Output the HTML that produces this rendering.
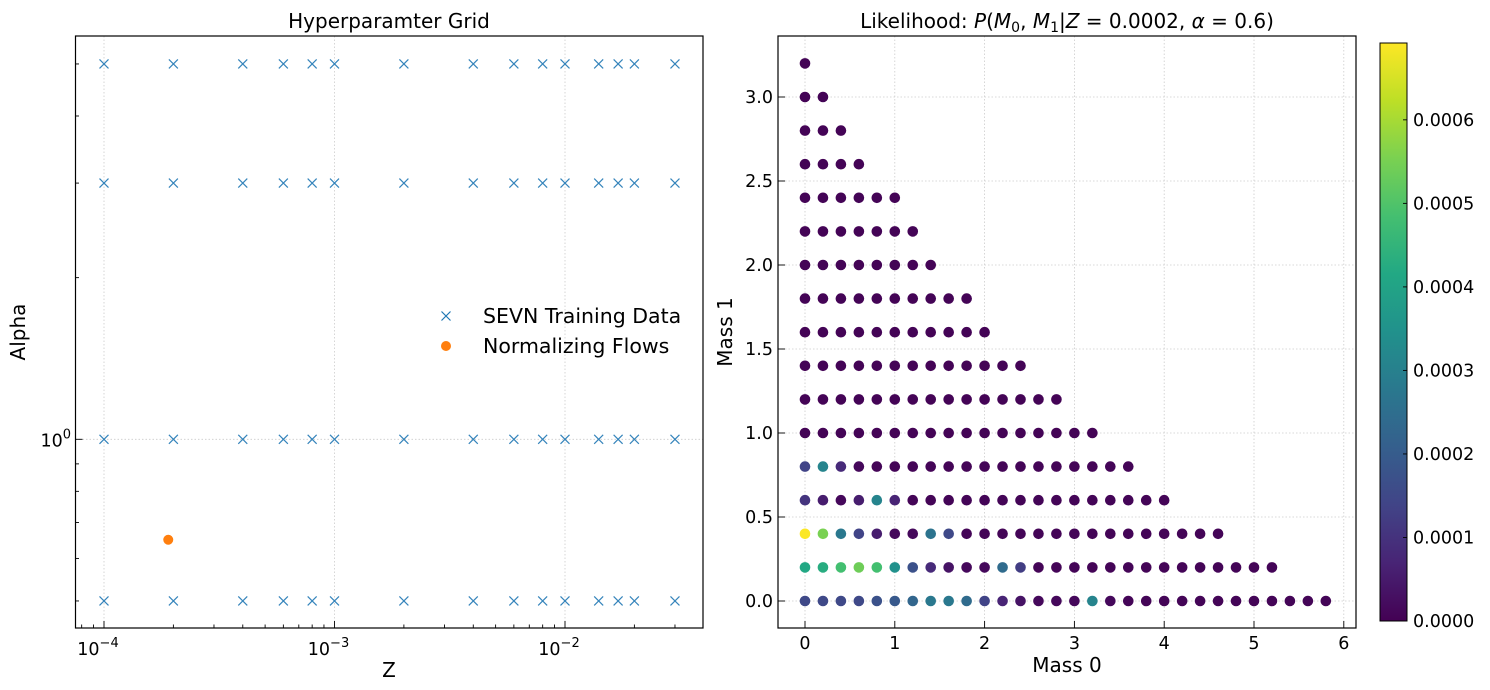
<!DOCTYPE html>
<html><head><meta charset="utf-8">
<style>
body{margin:0;background:#fff;}
svg{display:block;font-family:"DejaVu Sans","Liberation Sans",sans-serif;}
</style></head>
<body>
<svg id="fig" width="1490" height="690" viewBox="0 0 1490 690" xmlns="http://www.w3.org/2000/svg">
<defs>
<linearGradient id="vir" x1="0" y1="1" x2="0" y2="0">
<stop offset="0" stop-color="#440154"/><stop offset="0.1" stop-color="#482475"/><stop offset="0.2" stop-color="#414487"/><stop offset="0.3" stop-color="#355f8d"/><stop offset="0.4" stop-color="#2a788e"/><stop offset="0.5" stop-color="#21918c"/><stop offset="0.6" stop-color="#22a884"/><stop offset="0.7" stop-color="#44bf70"/><stop offset="0.8" stop-color="#7ad151"/><stop offset="0.9" stop-color="#bddf26"/><stop offset="1" stop-color="#fde725"/>
</linearGradient>
</defs>
<g id="left"></g>
<g id="right"></g>
<g id="cbar"></g>
</svg>
<script>
// ---------- Left chart data ----------
const zValues = [1e-4,2e-4,4e-4,6e-4,8e-4,1e-3,2e-3,4e-3,6e-3,8e-3,1e-2,1.4e-2,1.7e-2,2e-2,3e-2];
const alphaValues = [0.5,1,3,5];
const flowZ = [0.00019];
const flowAlpha = [0.65];
const xTickLabels = ["-4","-3","-2"];
// ---------- Right chart data ----------
const massStep = 0.2;
const rowCounts = [30,27,24,21,19,17,15,13,11,10,8,7,6,4,3,2,1];
const rowValues = [
 [0.000152,0.000152,0.000152,0.000152,0.000172,0.000193,0.000228,0.000276,0.000276,0.000241,0.000138,0.000069,0.000035,0.000014,0.000014,0.000014,0.00031,0.000014,0.000007,0.000007,0.000007,0.000007,0.000007,0.000007,0.000007,0.000007,0.000007,0.000007,0.000007,0.000007],
 [0.000414,0.000428,0.000483,0.000538,0.000483,0.000345,0.000172,0.000083,0.000035,0.000014,0.000014,0.000241,0.000124,0.000007,0.000007,0.000007,0.000007,0.000007,0.000007,0.000007,0.000007,0.000007,0.000007,0.000007,0.000007,0.000007,0.000007],
 [0.00069,0.000552,0.000276,0.000138,0.000055,0.000014,0.000014,0.000262,0.000152,0.000007,0.000007,0.000007,0.000007,0.000007,0.000007,0.000007,0.000007,0.000007,0.000007,0.000007,0.000007,0.000007,0.000007,0.000007],
 [0.000104,0.000055,0.000014,0.000055,0.00031,0.000069,0.000007,0.000007,0.000007,0.000007,0.000007,0.000007,0.000007,0.000007,0.000007,0.000007,0.000007,0.000007,0.000007,0.000007,0.000007],
 [0.000138,0.00031,0.000083,0.000014,0.000007,0.000007,0.000007,0.000007,0.000007,0.000007,0.000007,0.000007,0.000007,0.000007,0.000007,0.000007,0.000007,0.000007,0.000007]
];
const vmax = 0.000692;
const cbarTicks = [0,0.0001,0.0002,0.0003,0.0004,0.0005,0.0006];
const cbarLabels = ["0.0000","0.0001","0.0002","0.0003","0.0004","0.0005","0.0006"];
const mass0Ticks = [0,1,2,3,4,5,6];
const mass1Ticks = [0,0.5,1,1.5,2,2.5,3];
const mass1Labels = ["0.0","0.5","1.0","1.5","2.0","2.5","3.0"];

const NS="http://www.w3.org/2000/svg";
function el(tag, attrs, parent){const e=document.createElementNS(NS,tag);for(const k in attrs)e.setAttribute(k,attrs[k]);parent.appendChild(e);return e;}
const TF=17.5, LF=20;

// ---------- Left axes ----------
const L={x0:75.5,x1:703,y0:36,y1:628};
const lx=z=>104+(Math.log10(z)+4)*230.5;
const ly=a=>439.3-Math.log10(a)*537;
const gl=document.getElementById('left');
[1e-4,1e-3,1e-2].forEach(v=>{const g=el('line',{x1:lx(v),x2:lx(v),y1:L.y0,y2:L.y1,stroke:'#ccc','stroke-width':0.8,'stroke-dasharray':'1.5,2'},gl);});
{const g=el('line',{x1:L.x0,x2:L.x1,y1:ly(1),y2:ly(1),stroke:'#ccc','stroke-width':0.8,'stroke-dasharray':'1.5,2'},gl);}
alphaValues.forEach(a=>zValues.forEach(z=>{const cx=lx(z),cy=ly(a),s=4.5;
 const p=el('path',{d:`M${cx-s},${cy-s}L${cx+s},${cy+s}M${cx-s},${cy+s}L${cx+s},${cy-s}`,stroke:'#1f77b4','stroke-width':1.2,fill:'none',opacity:0.9},gl);
 
 }));
flowZ.forEach((z,i)=>{const c=el('circle',{cx:lx(z),cy:ly(flowAlpha[i]),r:5,fill:'#ff7f0e'},gl);
 
 });
{const r=el('rect',{x:L.x0,y:L.y0,width:L.x1-L.x0,height:L.y1-L.y0,fill:'none',stroke:'#000','stroke-width':1.2},gl);}
for(let d=-5;d<=-2;d++){for(let m=1;m<10;m++){const v=m*Math.pow(10,d);const x=lx(v);if(x<L.x0||x>L.x1)continue;const len=m===1?7:3.5;
 el('line',{x1:x,x2:x,y1:L.y1,y2:L.y1-len,stroke:'#000','stroke-width':0.9},gl);}}
xTickLabels.forEach((t,i)=>{const x=lx(Math.pow(10,-4+i));const tx=el('text',{x:x-6,y:655,'font-size':TF,'text-anchor':'middle'},gl);tx.textContent='10';const s=el('tspan',{'font-size':13,dy:-8},tx);s.textContent='\u2212'+t.replace('-','');});
[0.5,0.6,0.7,0.8,0.9,1,2,3,4,5].forEach(v=>{const y=ly(v);if(y<L.y0||y>L.y1)return;const len=v===1?7:3.5;
 el('line',{x1:L.x0,x2:L.x0+len,y1:y,y2:y,stroke:'#000','stroke-width':0.9},gl);});
{const tx=el('text',{x:71,y:ly(1)+7,'font-size':TF,'text-anchor':'end'},gl);tx.textContent='10';const s=el('tspan',{'font-size':13,dy:-8},tx);s.textContent='0';}
{const t=el('text',{x:389,y:28,'font-size':LF,'text-anchor':'middle'},gl);t.textContent='Hyperparamter Grid';}
{const t=el('text',{x:389,y:677,'font-size':LF,'text-anchor':'middle'},gl);t.textContent='Z';}
{const t=el('text',{x:25,y:332,'font-size':LF,'text-anchor':'middle',transform:'rotate(-90 25 332)'},gl);t.textContent='Alpha';}
{const g=el('g',{},gl);
 el('path',{d:'M441.5,311.5L450.5,320.5M441.5,320.5L450.5,311.5',stroke:'#1f77b4','stroke-width':1.2},g);
 const t1=el('text',{x:483,y:323,'font-size':20.5},g);t1.textContent='SEVN Training Data';
 el('circle',{cx:446,cy:346,r:5,fill:'#ff7f0e'},g);
 const t2=el('text',{x:483,y:353,'font-size':20.5},g);t2.textContent='Normalizing Flows';}

// ---------- Right axes ----------
const R={x0:778,x1:1356,y0:36,y1:628};
const rx=v=>805+v*89.8;
const ry=v=>601-v*168;
const stops=["#440154","#482475","#414487","#355f8d","#2a788e","#21918c","#22a884","#44bf70","#7ad151","#bddf26","#fde725"];
function hex(c){return [1,3,5].map(i=>parseInt(c.substr(i,2),16));}
function viridis(t){t=Math.max(0,Math.min(1,t))*10;const i=Math.min(9,Math.floor(t)),f=t-i;const a=hex(stops[i]),b=hex(stops[i+1]);return 'rgb('+a.map((v,k)=>Math.round(v+(b[k]-v)*f)).join(',')+')';}
const gr=document.getElementById('right');
mass0Ticks.forEach(v=>{const g=el('line',{x1:rx(v),x2:rx(v),y1:R.y0,y2:R.y1,stroke:'#ccc','stroke-width':0.8,'stroke-dasharray':'1.5,2'},gr);});
mass1Ticks.forEach(v=>{const g=el('line',{x1:R.x0,x2:R.x1,y1:ry(v),y2:ry(v),stroke:'#ccc','stroke-width':0.8,'stroke-dasharray':'1.5,2'},gr);});
rowCounts.forEach((n,j)=>{for(let i=0;i<n;i++){const val=(rowValues[j]&&rowValues[j][i]!==undefined)?rowValues[j][i]:0.000005;
 const c=el('circle',{cx:rx(i*massStep),cy:ry(j*massStep),r:5.3,fill:viridis(val/vmax)},gr);
 
 }});
{const r=el('rect',{x:R.x0,y:R.y0,width:R.x1-R.x0,height:R.y1-R.y0,fill:'none',stroke:'#000','stroke-width':1.2},gr);}
mass0Ticks.forEach(v=>{const x=rx(v);el('line',{x1:x,x2:x,y1:R.y1,y2:R.y1-7,stroke:'#000','stroke-width':0.9},gr);
 const t=el('text',{x:x,y:649,'font-size':TF,'text-anchor':'middle'},gr);t.textContent=String(v);});
mass1Ticks.forEach((v,i)=>{const y=ry(v);el('line',{x1:R.x0,x2:R.x0+7,y1:y,y2:y,stroke:'#000','stroke-width':0.9},gr);
 const t=el('text',{x:773,y:y+6,'font-size':TF,'text-anchor':'end'},gr);t.textContent=mass1Labels[i];});
{const t=el('text',{x:1067,y:28,'font-size':LF,'text-anchor':'middle'},gr);t.innerHTML='Likelihood: <tspan font-style="italic">P</tspan>(<tspan font-style="italic">M</tspan><tspan font-size="14" dy="4">0</tspan><tspan dy="-4">, </tspan><tspan font-style="italic">M</tspan><tspan font-size="14" dy="4">1</tspan><tspan dy="-4">|</tspan><tspan font-style="italic">Z</tspan> = 0.0002, <tspan font-style="italic">α</tspan> = 0.6)';}
{const t=el('text',{x:1067,y:672,'font-size':LF,'text-anchor':'middle'},gr);t.textContent='Mass 0';}
{const t=el('text',{x:732,y:332,'font-size':LF,'text-anchor':'middle',transform:'rotate(-90 732 332)'},gr);t.textContent='Mass 1';}

// ---------- Colorbar ----------
const gc=document.getElementById('cbar');
const C={x0:1380,x1:1407,y0:43,y1:621};
const cy=v=>C.y1-v/vmax*(C.y1-C.y0);
{const r=el('rect',{x:C.x0,y:C.y0,width:C.x1-C.x0,height:C.y1-C.y0,fill:'url(#vir)',stroke:'#000','stroke-width':1},gc);}
cbarTicks.forEach((v,i)=>{const y=cy(v);el('line',{x1:C.x1,x2:C.x1-4,y1:y,y2:y,stroke:'#000','stroke-width':0.9},gc);
 const t=el('text',{x:1413,y:y+6,'font-size':TF},gc);t.textContent=cbarLabels[i];});
</script>
</body></html>
